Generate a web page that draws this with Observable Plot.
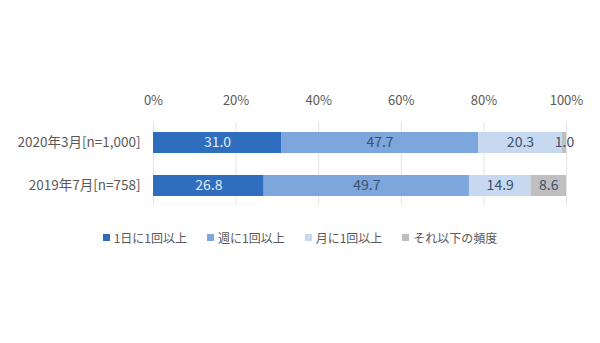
<!DOCTYPE html>
<html><head><meta charset="utf-8">
<script src="https://cdn.jsdelivr.net/npm/d3@7"></script>
<script src="https://cdn.jsdelivr.net/npm/@observablehq/plot@0.6"></script>
<style>
html,body{margin:0;padding:0;background:#fff;width:600px;height:343px;overflow:hidden;}
#chart svg{display:block;}
#legend{display:flex;justify-content:center;align-items:center;gap:20px;font-family:"Noto Sans CJK JP",sans-serif;font-size:12px;color:#595959;margin-top:4px;padding-left:0;}
#legend .it{display:flex;align-items:center;}
#legend .sw{width:7px;height:7px;margin-right:4px;}
</style></head>
<body>
<div id="chart"></div>
<div id="legend"></div>
<script>
const periods = ["2020年3月[n=1,000]", "2019年7月[n=758]"];
const categories = ["1日に1回以上", "週に1回以上", "月に1回以上", "それ以下の頻度"];
const values2020 = [31.0, 47.7, 20.3, 1.0];
const values2019 = [26.8, 49.7, 14.9, 8.6];
const colors = ["#2F6EBE", "#7CA6DC", "#C6D9F0", "#BFBFBF"];
const labelColors = ["#E3ECF7", "#3E4F6A", "#3E4F6A", "#3E4F6A"];
const xTicks = [0, 20, 40, 60, 80, 100];

const seriesByPeriod = [values2020, values2019];
const data = [];
periods.forEach((p, i) => {
  categories.forEach((c, j) => {
    data.push({period: p, category: c, value: seriesByPeriod[i][j], ci: j});
  });
});

const font = '"Noto Sans CJK JP", sans-serif';
const chart = Plot.plot({
  width: 600,
  height: 225,
  marginLeft: 153,
  marginRight: 34,
  marginTop: 110,
  marginBottom: 7,
  style: {fontFamily: font, fontSize: "12px", color: "#595959", background: "#fff"},
  x: {domain: [0, 100], ticks: xTicks, label: null},
  y: {domain: periods, padding: 0.51, label: null},
  color: {domain: categories, range: colors},
  marks: [
    Plot.gridX(xTicks, {stroke: "#e3e3e3", strokeOpacity: 1, insetTop: 12, insetBottom: 13}),
    Plot.axisX(xTicks, {anchor: "top", label: null, tickSize: 0, tickPadding: 6, tickFormat: d => d + "%", fill: "#595959", fontSize: 13}),
    Plot.axisY({label: null, tickSize: 0, tickPadding: 13, fill: "#595959", fontSize: 13.5}),
    Plot.barX(data, Plot.stackX({x: "value", y: "period", fill: "category", order: categories})),
    Plot.text(data, Plot.stackX({x: "value", y: "period", z: "category", order: categories,
      text: d => d.value.toFixed(1), fill: d => labelColors[d.ci], fontSize: 14, fontFamily: font}))
  ]
});
document.getElementById("chart").appendChild(chart);

const lg = d3.select("#legend");
categories.forEach((c, j) => {
  const it = lg.append("div").attr("class", "it");
  it.append("div").attr("class", "sw").style("background", colors[j]);
  it.append("span").text(c);
});
</script>
</body></html>
